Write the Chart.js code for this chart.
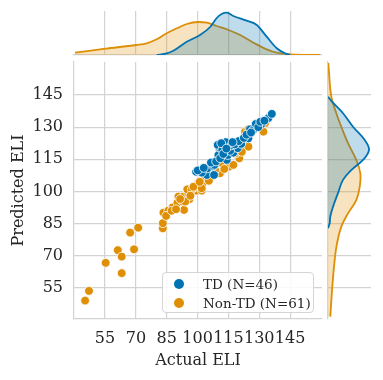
<!DOCTYPE html>
<html>
<head>
<meta charset="utf-8">
<script src="https://cdn.jsdelivr.net/npm/chart.js@4"></script>
<style>
  html, body { margin: 0; padding: 0; background: #fff; }
  #wrap { position: relative; width: 383px; height: 380px; overflow: hidden; }
  canvas { position: absolute; }
  #legend {
    position: absolute; left: 162px; top: 272px; width: 150px; height: 39px;
    border: 1px solid #d5d5d5; border-radius: 4px; background: rgba(255,255,255,0.85);
    font-family: 'DejaVu Serif', serif; font-size: 13.5px; color: #262626;
  }
  .item { position: absolute; left: 0; height: 18px; line-height: 18px; white-space: nowrap; }
  .dot { position: absolute; left: 11px; top: 4px; width: 10px; height: 10px; border-radius: 50%; }
  .lab { position: absolute; left: 40px; top: 0; }
</style>
</head>
<body>
<div id="wrap">
  <canvas id="top" width="330" height="60" style="left:0;top:0"></canvas>
  <canvas id="main" width="330" height="330" style="left:0;top:50px"></canvas>
  <canvas id="side" width="63" height="330" style="left:320px;top:50px"></canvas>
  <div id="legend"></div>
</div>
<script>
// scatter: actual vs predicted ELI
const tdActual = [99.3, 101.2, 104.5, 104.8, 107.7, 108.0, 110.1, 113.4, 110.4, 113.4,
  113.7, 109.8, 114.2, 114.7, 117.4, 119.5, 124.7, 121.2, 125.5, 127.1,
  128.3, 131.2, 134.4, 136.1, 108.2, 102.0, 100.1, 112.0, 111.5, 115.8,
  116.5, 118.0, 120.0, 122.5, 123.8, 126.0, 129.5, 130.5, 132.5, 106.5,
  109.0, 111.0, 112.5, 114.0, 117.0, 103.0];
const tdPred = [109.2, 109.2, 107.7, 110.8, 111.9, 107.7, 117.0, 115.5, 120.6, 121.7,
  123.0, 121.7, 114.7, 117.0, 118.1, 120.2, 124.8, 122.2, 129.0, 128.7,
  131.5, 131.5, 134.2, 136.2, 112.4, 108.8, 109.8, 119.5, 122.5, 119.0,
  121.5, 122.0, 123.5, 125.0, 126.5, 127.5, 130.0, 132.5, 133.0, 113.5,
  114.0, 115.5, 117.5, 120.0, 123.0, 111.0];
const nonTdActual = [45.3, 47.2, 55.3, 63.1, 61.2, 63.1, 69.1, 67.2, 71.1, 83.1,
  83.1, 83.4, 85.8, 84.7, 87.9, 90.2, 92.8, 93.4, 90.7, 93.1,
  95.5, 96.0, 98.0, 99.6, 102.5, 87.4, 89.5, 94.0, 95.0, 97.2,
  98.8, 102.0, 100.4, 98.0, 102.0, 104.5, 107.7, 110.9, 103.6, 106.9,
  111.8, 115.3, 117.4, 118.2, 120.3, 118.7, 119.1, 124.7, 123.1, 123.1,
  124.7, 129.9, 132.0, 132.8, 113.0, 108.5, 91.5, 96.5, 121.5, 101.0, 105.5];
const nonTdPred = [49.1, 53.6, 66.7, 61.9, 72.6, 69.6, 73.0, 80.8, 83.1, 82.8,
  85.2, 90.1, 91.1, 88.6, 92.6, 94.8, 95.3, 91.4, 97.6, 97.6,
  99.2, 96.4, 99.9, 100.4, 103.8, 91.0, 91.7, 95.3, 101.0, 101.0,
  102.2, 100.4, 103.8, 102.2, 101.5, 106.9, 108.2, 108.5, 106.6, 107.0,
  113.2, 111.6, 112.4, 117.5, 115.5, 117.8, 118.6, 120.9, 126.4, 127.9,
  129.0, 131.8, 127.9, 131.8, 110.5, 110.0, 96.5, 98.0, 118.5, 104.5, 105.0];

// marginal densities (arbitrary units)
const topTdX = [80.1, 85, 88.2, 94.7, 101.2, 106.1, 109.3, 111.7, 114.2, 117.4, 123.9, 128.8, 133.6, 138.5, 142.5, 145];
const topTdY = [0, 1.7, 4.3, 13.3, 20, 28, 37, 41, 42.3, 39, 34.3, 30, 18.3, 6.7, 1.7, 0];
const topNonTdX = [40.4, 55.2, 70.1, 75.3, 80.1, 85, 89.9, 94.7, 100.1, 104.5, 109.3, 115, 120.7, 127.2, 133.6, 138.5, 145, 159.6];
const topNonTdY = [2.3, 6.3, 10, 11.7, 15.7, 21.7, 26.7, 31, 33, 32.3, 29, 25, 20, 12.3, 5.7, 2.3, 0.7, 0];
const sideTdY = [144.2, 141.9, 136.5, 130.2, 124.0, 119.4, 114.7, 110.0, 105.4, 99.2, 92.9, 88.3, 85.2, 82.8];
const sideTdX = [0, 4, 15, 25, 36.7, 41, 35, 23.3, 15, 10, 5, 2.3, 1.7, 0];
const sideNonTdY = [160, 156.7, 144.2, 136.5, 130.2, 122.5, 114.7, 108.5, 102.2, 96.0, 89.8, 83.6, 75.8, 68.1, 55.6, 41.6];
const sideNonTdX = [0.3, 0.8, 3.3, 8.3, 13.3, 20, 28.3, 32.3, 31.7, 28.3, 20, 13.3, 9, 6.7, 4.3, 2.3];

const tickValues = [55, 70, 85, 100, 115, 130, 145];
const labels = ['TD (N=46)', 'Non-TD (N=61)'];

const BLUE = '#0173b2';
const ORANGE = '#de8f05';
const GRID = '#d3d3d3';
const TEXT = '#262626';
const FONT = "'DejaVu Serif', serif";

const pts = (xs, ys) => xs.map((x, i) => ({ x: x, y: ys[i] }));
const fixTicks = (s) => { s.ticks = tickValues.map(v => ({ value: v })); };
const noPad = (s) => { s.paddingTop = 0; s.paddingBottom = 0; s.paddingLeft = 0; s.paddingRight = 0; };

// main scatter
new Chart(document.getElementById('main'), {
  type: 'scatter',
  data: {
    datasets: [
      { label: labels[0], data: pts(tdActual, tdPred), backgroundColor: BLUE,
        borderColor: '#ffffff', borderWidth: 0.8, pointRadius: 4.4 },
      { label: labels[1], data: pts(nonTdActual, nonTdPred), backgroundColor: ORANGE,
        borderColor: '#ffffff', borderWidth: 0.8, pointRadius: 4.4 }
    ]
  },
  options: {
    responsive: false,
    animation: false,
    devicePixelRatio: 1,
    layout: { padding: { top: 12, right: 8, left: 0, bottom: 0 } },
    plugins: { legend: { display: false }, tooltip: { enabled: false } },
    scales: {
      x: {
        min: 39.9, max: 160.5,
        afterBuildTicks: fixTicks,
        afterFit: function (s) { s.height = 61; noPad(s); },
        grid: { color: GRID, lineWidth: 1.2, drawTicks: false },
        border: { display: true, color: GRID, width: 1.2 },
        ticks: { color: TEXT, padding: 10, maxRotation: 0, autoSkip: false, font: { family: FONT, size: 16 } },
        title: { display: true, text: 'Actual ELI', color: TEXT, font: { family: FONT, size: 16 }, padding: { top: 0, bottom: 10 } }
      },
      y: {
        min: 40.5, max: 160.4,
        afterBuildTicks: fixTicks,
        afterFit: function (s) { s.width = 74; noPad(s); },
        grid: { color: GRID, lineWidth: 1.2, drawTicks: false },
        border: { display: true, color: GRID, width: 1.2 },
        ticks: { color: TEXT, padding: 11, autoSkip: false, font: { family: FONT, size: 16 } },
        title: { display: true, text: 'Predicted ELI', color: TEXT, font: { family: FONT, size: 16 }, padding: { top: 9, bottom: 0 } }
      }
    }
  }
});

// top marginal density
new Chart(document.getElementById('top'), {
  type: 'line',
  data: {
    datasets: [
      { data: pts(topTdX, topTdY), borderColor: BLUE, backgroundColor: 'rgba(1,115,178,0.25)',
        fill: 'origin', borderWidth: 1.8, pointRadius: 0, cubicInterpolationMode: 'monotone' },
      { data: pts(topNonTdX, topNonTdY), borderColor: ORANGE, backgroundColor: 'rgba(222,143,5,0.25)',
        fill: 'origin', borderWidth: 1.8, pointRadius: 0, cubicInterpolationMode: 'monotone' }
    ]
  },
  options: {
    responsive: false,
    animation: false,
    devicePixelRatio: 1,
    layout: { padding: { top: 11, right: 8, left: 74, bottom: 5 } },
    plugins: { legend: { display: false }, tooltip: { enabled: false } },
    scales: {
      x: {
        type: 'linear', min: 39.9, max: 160.5,
        afterBuildTicks: fixTicks,
        afterFit: function (s) { s.height = 0; noPad(s); },
        grid: { color: GRID, lineWidth: 1.2, drawTicks: false },
        border: { display: true, color: GRID, width: 1.2 },
        ticks: { display: false }
      },
      y: { display: false, min: 0, max: 44 }
    }
  }
});

// right marginal density
new Chart(document.getElementById('side'), {
  type: 'line',
  data: {
    datasets: [
      { data: pts(sideTdX, sideTdY), borderColor: BLUE, backgroundColor: 'rgba(1,115,178,0.25)',
        fill: 'origin', borderWidth: 1.8, pointRadius: 0, tension: 0.4 },
      { data: pts(sideNonTdX, sideNonTdY), borderColor: ORANGE, backgroundColor: 'rgba(222,143,5,0.25)',
        fill: 'origin', borderWidth: 1.8, pointRadius: 0, tension: 0.4 }
    ]
  },
  options: {
    indexAxis: 'y',
    responsive: false,
    animation: false,
    devicePixelRatio: 1,
    layout: { padding: { top: 12, right: 12, left: 8, bottom: 61 } },
    plugins: { legend: { display: false }, tooltip: { enabled: false } },
    scales: {
      x: { type: 'linear', display: false, min: 0, max: 43 },
      y: {
        type: 'linear', min: 40.5, max: 160.4,
        afterBuildTicks: fixTicks,
        afterFit: function (s) { s.width = 0; noPad(s); },
        grid: { color: GRID, lineWidth: 1.2, drawTicks: false },
        border: { display: true, color: GRID, width: 1.2 },
        ticks: { display: false }
      }
    }
  }
});

// legend box
const legend = document.getElementById('legend');
[[labels[0], BLUE], [labels[1], ORANGE]].forEach(function (e, i) {
  const item = document.createElement('div');
  item.className = 'item';
  item.style.top = (2 + i * 18.5) + 'px';
  item.innerHTML = '<span class="dot" style="background:' + e[1] + '"></span><span class="lab"></span>';
  item.querySelector('.lab').textContent = e[0];
  legend.appendChild(item);
});
</script>
</body>
</html>
